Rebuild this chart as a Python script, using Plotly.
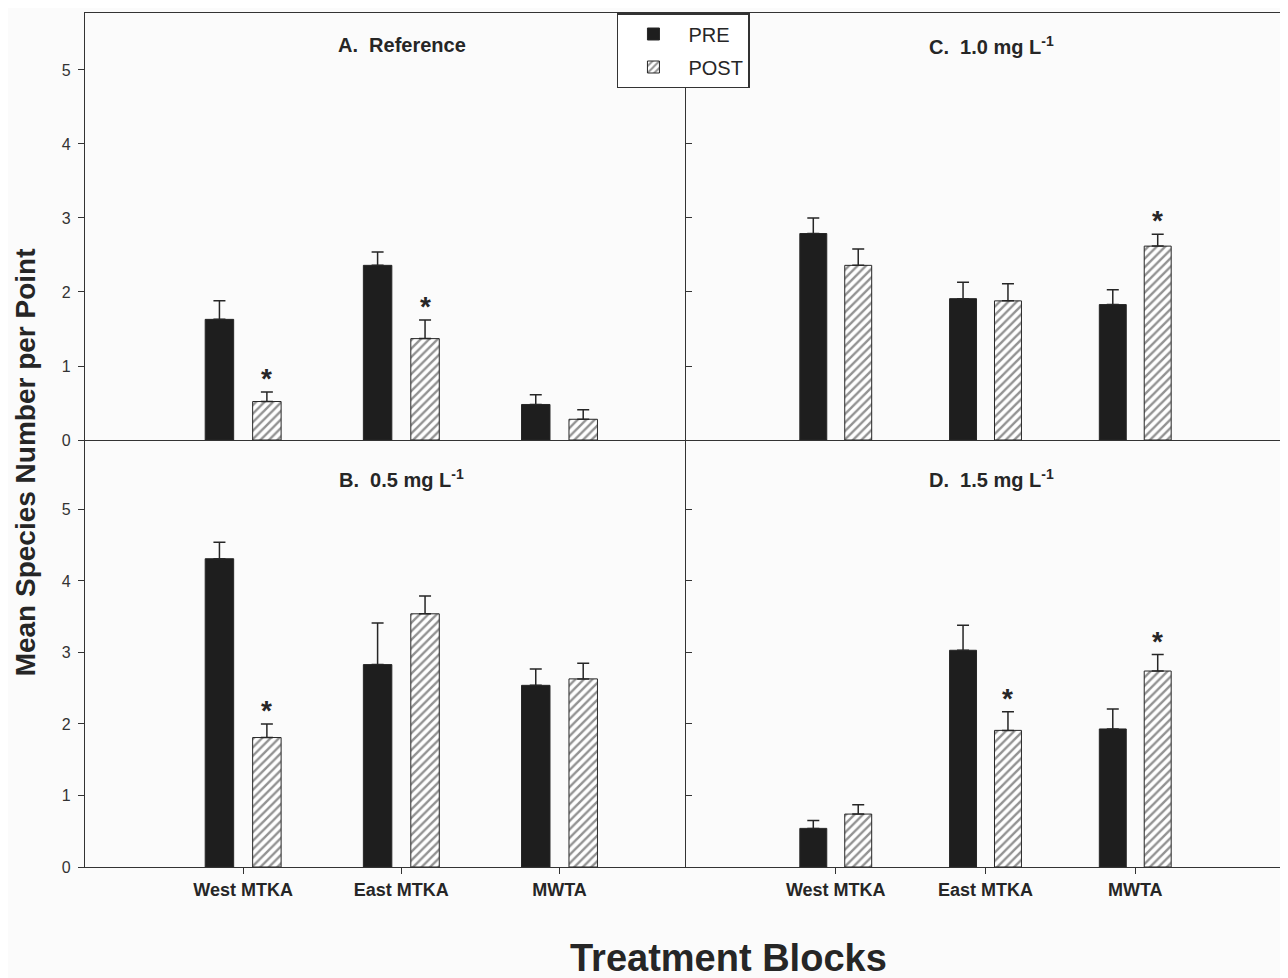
import plotly.graph_objects as go
from plotly.subplots import make_subplots

categories = ["West MTKA", "East MTKA", "MWTA"]

# Panel A. Reference
A_pre = [1.63, 2.36, 0.48]
A_pre_err = [0.25, 0.18, 0.13]
A_post = [0.52, 1.37, 0.28]
A_post_err = [0.13, 0.25, 0.13]
A_sig = [True, True, False]

# Panel B. 0.5 mg/L
B_pre = [4.31, 2.83, 2.54]
B_pre_err = [0.23, 0.58, 0.23]
B_post = [1.81, 3.54, 2.63]
B_post_err = [0.19, 0.25, 0.22]
B_sig = [True, False, False]

# Panel C. 1.0 mg/L
C_pre = [2.79, 1.91, 1.83]
C_pre_err = [0.21, 0.22, 0.20]
C_post = [2.36, 1.88, 2.62]
C_post_err = [0.22, 0.23, 0.16]
C_sig = [False, False, True]

# Panel D. 1.5 mg/L
D_pre = [0.54, 3.03, 1.93]
D_pre_err = [0.11, 0.35, 0.28]
D_post = [0.74, 1.91, 2.74]
D_post_err = [0.13, 0.26, 0.23]
D_sig = [False, True, True]

y_ticks = [0, 1, 2, 3, 4, 5]

panels = [
    ("A.\u00a0 Reference", 1, 1, A_pre, A_pre_err, A_post, A_post_err, A_sig),
    ("C.\u00a0 1.0 mg L<sup>-1</sup>", 1, 2, C_pre, C_pre_err, C_post, C_post_err, C_sig),
    ("B.\u00a0 0.5 mg L<sup>-1</sup>", 2, 1, B_pre, B_pre_err, B_post, B_post_err, B_sig),
    ("D.\u00a0 1.5 mg L<sup>-1</sup>", 2, 2, D_pre, D_pre_err, D_post, D_post_err, D_sig),
]

BARGAP = 0.4
BARGROUPGAP = 0.4
post_offset = (1 - BARGAP) / 4.0

INK = "#262626"
LINE = "#333333"
FONT = "Liberation Sans, Arial, sans-serif"

fig = make_subplots(rows=2, cols=2, horizontal_spacing=0, vertical_spacing=0)

for i, (title, r, c, pre, pre_err, post, post_err, sig) in enumerate(panels):
    first = i == 0
    fig.add_trace(go.Bar(
        x=categories, y=pre, name="PRE", legendgroup="PRE", showlegend=first,
        marker=dict(color="#1e1e1e", line=dict(color=INK, width=1)),
        error_y=dict(type="data", symmetric=False, array=pre_err,
                     arrayminus=[0] * len(pre_err), color=INK, thickness=1.5, width=6),
    ), row=r, col=c)
    fig.add_trace(go.Bar(
        x=categories, y=post, name="POST", legendgroup="POST", showlegend=first,
        marker=dict(color="white", line=dict(color=INK, width=1),
                    pattern=dict(shape="/", fgcolor=INK, bgcolor="white", size=6, solidity=0.4)),
        error_y=dict(type="data", symmetric=False, array=post_err,
                     arrayminus=[0] * len(post_err), color=INK, thickness=1.5, width=6),
    ), row=r, col=c)
    axn = "" if i == 0 else str(i + 1)
    # significance stars above POST error bars
    for k, flag in enumerate(sig):
        if flag:
            fig.add_annotation(
                x=k + post_offset, y=post[k] + post_err[k], xref="x" + axn, yref="y" + axn,
                text="<b>*</b>", showarrow=False, yanchor="bottom", yshift=-4,
                font=dict(family=FONT, size=28, color=INK),
            )
    # panel title
    fig.add_annotation(
        x=0.527 if c == 1 else 0.513, y=0.925 if r == 1 else 0.911,
        xref="x" + axn + " domain", yref="y" + axn + " domain",
        xanchor="center", yanchor="middle",
        text="<b>" + title + "</b>", showarrow=False,
        font=dict(family=FONT, size=20, color=INK),
    )

xsplit = 0.5021
axis_common = dict(showline=True, linecolor=LINE, linewidth=1.3,
                   showgrid=False, zeroline=False)

for r in (1, 2):
    for c in (1, 2):
        xr = [-1, 2.8] if c == 1 else [-1, 2.98]
        xdom = [0, xsplit] if c == 1 else [xsplit, 1]
        ydom = [0.5, 1] if r == 1 else [0, 0.5]
        yr = [0, 5.77] if r == 1 else [0, 5.97]
        xa = dict(axis_common, domain=xdom, range=xr, type="category",
                  mirror=(r == 1))
        if r == 1:
            xa.update(showticklabels=False, ticks="")
        else:
            xa.update(ticks="outside", ticklen=6, tickcolor=LINE, tickwidth=1.3,
                      tickfont=dict(family=FONT, size=18, color=INK, weight="bold"))
        ya = dict(axis_common, domain=ydom, range=yr, tickvals=y_ticks,
                  mirror=(c == 2))
        if c == 1:
            ya.update(ticks="outside", ticklen=6, tickcolor=LINE, tickwidth=1.3,
                      tickfont=dict(family=FONT, size=16, color="#333333"), ticklabelstandoff=4)
        else:
            ya.update(ticks="inside", ticklen=6, tickcolor=LINE, tickwidth=1.3,
                      showticklabels=False)
        fig.update_xaxes(xa, row=r, col=c)
        fig.update_yaxes(ya, row=r, col=c)

fig.add_annotation(
    x=-0.050, y=0.474, xref="paper", yref="paper", textangle=-90,
    xanchor="center", yanchor="middle",
    text="<b>Mean Species Number per Point</b>", showarrow=False,
    font=dict(family=FONT, size=28, color=INK),
)
fig.add_annotation(
    x=0.538, y=-0.1066, xref="paper", yref="paper",
    xanchor="center", yanchor="middle",
    text="<b>Treatment Blocks</b>", showarrow=False,
    font=dict(family=FONT, size=38, color=INK),
)

fig.update_layout(
    width=1280, height=970,
    margin=dict(l=77, r=6, t=5, b=111),
    paper_bgcolor="#fbfbfb", plot_bgcolor="#fbfbfb",
    barmode="group", bargap=BARGAP, bargroupgap=BARGROUPGAP,
    font=dict(family=FONT, color=INK),
    legend=dict(x=0.4444, y=1.0, xanchor="left", yanchor="top",
                bgcolor="white", bordercolor=LINE, borderwidth=1.5,
                font=dict(family=FONT, size=20, color=INK), itemwidth=60,
                tracegroupgap=4, entrywidth=80, entrywidthmode="pixels"),
)

fig.write_html("out.html")
